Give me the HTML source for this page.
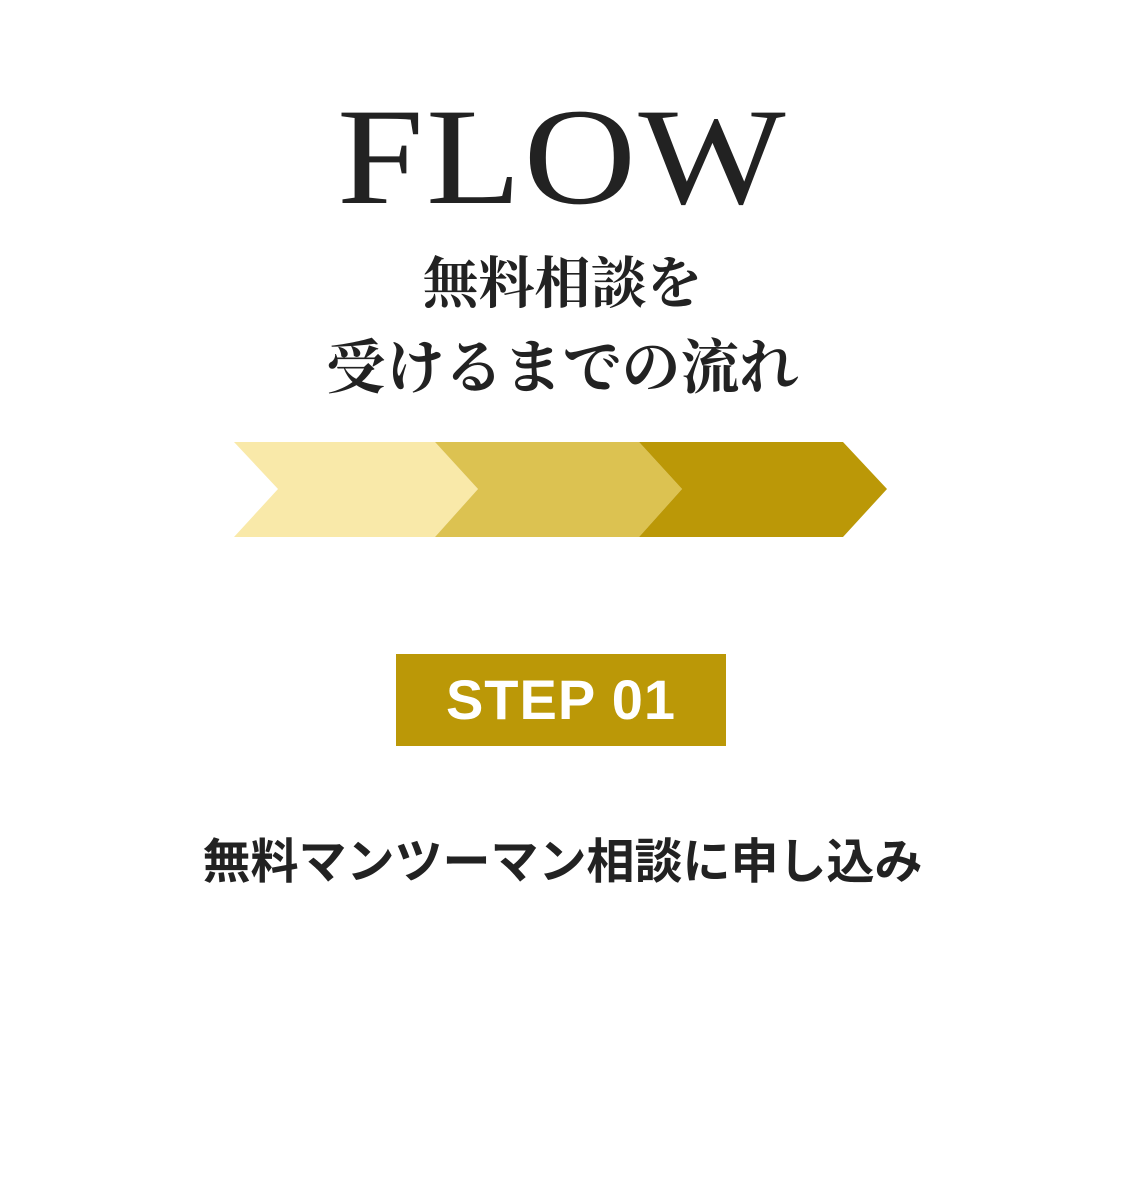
<!DOCTYPE html>
<html><head><meta charset="utf-8"><style>
html,body{margin:0;padding:0;background:#fff;}
body{width:1125px;height:1179px;position:relative;overflow:hidden;}
.t{position:absolute;left:0;width:1125px;text-align:center;white-space:nowrap;color:#222;}
.flow{top:82px;font-family:"Liberation Serif",serif;font-size:138px;line-height:150px;letter-spacing:2px;transform:scaleX(1.13);transform-origin:563px 0;}
.j1{top:250px;font-family:"Liberation Serif","Noto Serif CJK SC",serif;font-weight:bold;font-size:56px;line-height:70px;}
.j2{top:333px;font-family:"Liberation Serif","Noto Serif CJK SC",serif;font-weight:bold;font-size:59px;line-height:70px;}
.step{position:absolute;left:396px;top:654px;width:330px;height:92px;background:#bb9807;color:#fff;font-family:"Liberation Sans",sans-serif;font-weight:bold;font-size:56px;line-height:92px;text-align:center;letter-spacing:1px;}
.sub{top:833px;font-family:"Liberation Sans","Noto Sans CJK JP",sans-serif;font-weight:bold;font-size:48px;line-height:60px;}
</style></head><body>
<div class="t flow">FLOW</div>
<div class="t j1">無料相談を</div>
<div class="t j2">受けるまでの流れ</div>
<svg style="position:absolute;left:0;top:0" width="1125" height="600">
<polygon points="234,442 435,442 478,489 435,537 234,537 278,489" fill="#f9e9a9"/>
<polygon points="435,442 639,442 682,489 639,537 435,537 478,489" fill="#dcc251"/>
<polygon points="639,442 843,442 887,489 843,537 639,537 682,489" fill="#bb9807"/>
</svg>
<div class="step">STEP 01</div>
<div class="t sub">無料マンツーマン相談に申し込み</div>
</body></html>
